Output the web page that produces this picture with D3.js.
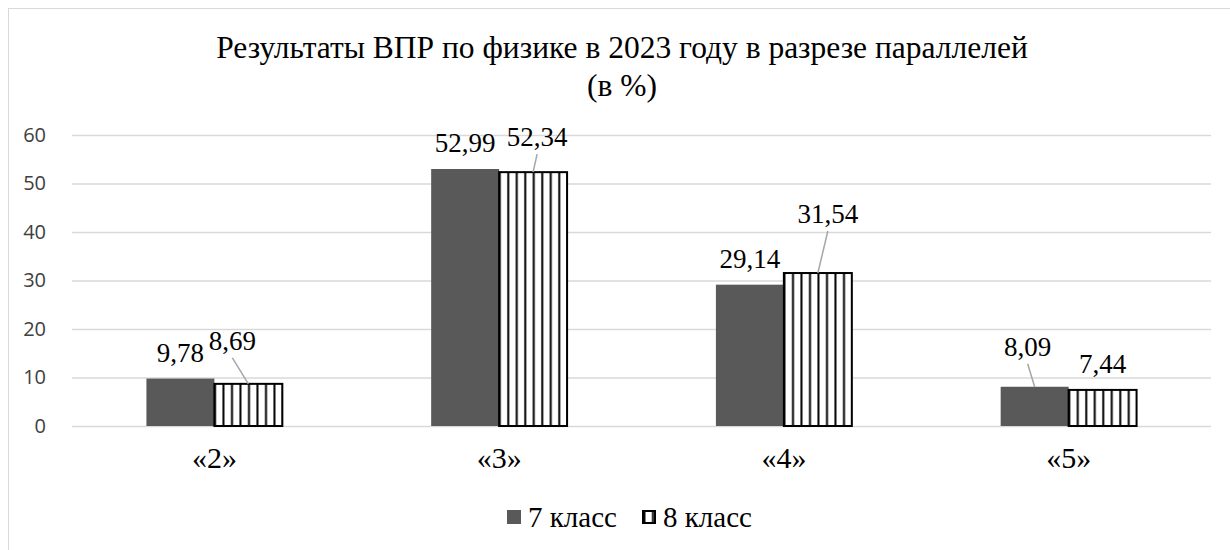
<!DOCTYPE html>
<html>
<head>
<meta charset="utf-8">
<script src="https://cdn.jsdelivr.net/npm/d3@7"></script>
<style>
  body { margin: 0; background: #fff; }
  svg { display: block; }
  .serif { font-family: "Liberation Serif", Tinos, "Times New Roman", serif; }
</style>
</head>
<body>
<div id="chart"></div>
<script>
// data
var categories = ["«2»", "«3»", "«4»", "«5»"];
var seriesNames = ["7 класс", "8 класс"];
var grade7 = [9.78, 52.99, 29.14, 8.09];
var grade8 = [8.69, 52.34, 31.54, 7.44];
var yTicks = [0, 10, 20, 30, 40, 50, 60];

// manual label nudges (like dragged labels in the original), px
var nudge7 = [[0, 0], [0, 0], [0, 0], [-7, -14]];
var nudge8 = [[-16, -17], [4, -9], [10, -33], [0, 0]];

var W = 1230, H = 550;
var plot = {left: 72, right: 1211, top: 135, bottom: 426};
var sans = "'Open Sans', 'Noto Sans', sans-serif";

var svg = d3.select("#chart").append("svg")
    .attr("width", W)
    .attr("height", H);

// hatch pattern for 8 класс
var defs = svg.append("defs");
var pat = defs.append("pattern")
    .attr("id", "vstripes")
    .attr("patternUnits", "userSpaceOnUse")
    .attr("width", 8.5)
    .attr("height", 10);
pat.append("rect").attr("width", 8.5).attr("height", 10).attr("fill", "#fff");
pat.append("rect").attr("x", 6).attr("width", 2).attr("height", 10).attr("fill", "#000");

// outer frame
svg.append("rect")
    .attr("x", 8.5).attr("y", 8.5)
    .attr("width", 1240).attr("height", 560)
    .attr("fill", "#fff")
    .attr("stroke", "#d9d9d9")
    .attr("stroke-width", 1);

// title
var title = svg.append("text")
    .attr("class", "serif")
    .attr("text-anchor", "middle")
    .style("font-size", "31.5px")
    .style("fill", "#000");
title.append("tspan").attr("x", 622).attr("y", 58)
    .text("Результаты ВПР по физике в 2023 году в разрезе параллелей");
title.append("tspan").attr("x", 622).attr("y", 96).text("(в %)");

// scales
var x0 = d3.scaleBand()
    .domain(categories)
    .range([plot.left, plot.right]);
var gap = 2.19; // excel-like gap width
var barW = x0.bandwidth() / (2 + gap);
var x1 = d3.scaleBand()
    .domain(seriesNames)
    .range([x0.bandwidth() / 2 - barW, x0.bandwidth() / 2 + barW]);

var y = d3.scaleLinear()
    .domain([0, 60])
    .range([plot.bottom, plot.top]);

// gridlines
svg.append("g")
  .selectAll("line")
  .data(yTicks)
  .enter()
  .append("line")
    .attr("x1", plot.left)
    .attr("x2", plot.right)
    .attr("y1", function(d) { return y(d) + 0.5; })
    .attr("y2", function(d) { return y(d) + 0.5; })
    .attr("stroke", "#d9d9d9")
    .attr("stroke-width", 1.5);

// Y axis labels
var yAxis = svg.append("g")
    .attr("transform", "translate(" + (plot.left - 26) + ",0)")
    .call(d3.axisLeft(y).tickValues(yTicks).tickSize(0).tickPadding(0));
yAxis.select(".domain").remove();
yAxis.attr("font-family", null);
yAxis.selectAll("text")
    .attr("x", 0)
    .attr("text-anchor", "end")
    .style("font-family", sans)
    .style("font-size", "20px")
    .style("fill", "#404040");

// X axis labels
var xAxis = svg.append("g")
    .attr("transform", "translate(0," + plot.bottom + ")")
    .call(d3.axisBottom(x0).tickSize(0).tickPadding(21));
xAxis.attr("font-family", null);
xAxis.select(".domain").remove();
xAxis.selectAll("text")
    .attr("class", "serif")
    .style("font-size", "30px")
    .style("fill", "#000");

// bars
var rows = categories.map(function(c, i) {
  return {cat: c, vals: [
    {key: seriesNames[0], v: grade7[i], nudge: nudge7[i]},
    {key: seriesNames[1], v: grade8[i], nudge: nudge8[i]}
  ]};
});

var groups = svg.append("g")
  .selectAll("g")
  .data(rows)
  .enter()
  .append("g")
    .attr("transform", function(d) { return "translate(" + x0(d.cat) + ",0)"; });

groups.selectAll("rect")
  .data(function(d) { return d.vals; })
  .enter()
  .append("rect")
    .attr("x", function(d) { return x1(d.key); })
    .attr("y", function(d) { return y(d.v); })
    .attr("width", x1.bandwidth())
    .attr("height", function(d) { return y(0) - y(d.v); })
    .attr("fill", function(d, i) { return i === 0 ? "#595959" : "url(#vstripes)"; })
    .attr("stroke", function(d, i) { return i === 0 ? "none" : "#000"; })
    .attr("stroke-width", 2);

// leader lines for nudged labels
groups.selectAll("line.leader")
  .data(function(d) { return d.vals.filter(function(v) { return v.nudge[0] || v.nudge[1]; }); })
  .enter()
  .append("line")
    .attr("class", "leader")
    .attr("x1", function(d) { return x1(d.key) + x1.bandwidth() / 2 + d.nudge[0]; })
    .attr("y1", function(d) { return y(d.v) - 26 + d.nudge[1] + 17; })
    .attr("x2", function(d) { return x1(d.key) + x1.bandwidth() / 2; })
    .attr("y2", function(d) { return y(d.v); })
    .attr("stroke", "#a6a6a6")
    .attr("stroke-width", 1.5);

// value labels
groups.selectAll("text.val")
  .data(function(d) { return d.vals; })
  .enter()
  .append("text")
    .attr("class", "val serif")
    .attr("x", function(d) { return x1(d.key) + x1.bandwidth() / 2 + d.nudge[0]; })
    .attr("y", function(d) { return y(d.v) - 26 + d.nudge[1]; })
    .attr("dy", "0.34em")
    .attr("text-anchor", "middle")
    .style("font-size", "27px")
    .style("fill", "#000")
    .text(function(d) { return d3.format(".2f")(d.v).replace(".", ","); });

// legend
var legend = svg.append("g").attr("transform", "translate(0,517)");
var legX = [507, 642];
seriesNames.forEach(function(s, i) {
  legend.append("rect")
    .attr("x", legX[i] + (i ? 1 : 0))
    .attr("y", i ? -6 : -7)
    .attr("width", i ? 12 : 14)
    .attr("height", i ? 12 : 14)
    .attr("fill", i ? "url(#vstripes)" : "#595959")
    .attr("stroke", i ? "#000" : "none")
    .attr("stroke-width", 2);
  legend.append("text")
    .attr("class", "serif")
    .attr("x", legX[i] + 21)
    .attr("dy", "0.34em")
    .style("font-size", "29px")
    .style("fill", "#000")
    .text(s);
});
</script>
</body>
</html>
